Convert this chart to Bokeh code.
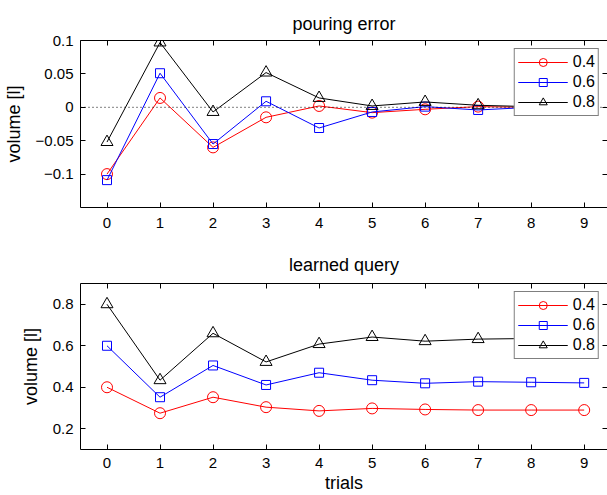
from bokeh.plotting import figure
from bokeh.layouts import column
from bokeh.models import LinearAxis, FixedTicker, Range1d, Legend, LegendItem, Span, CustomJSTickFormatter
from bokeh.embed import file_html
from bokeh.resources import INLINE

# ---- data ----
trials = [0, 1, 2, 3, 4, 5, 6, 7, 8, 9]
x_tick_labels = ["0", "1", "2", "3", "4", "5", "6", "7", "8", "9"]
series_labels = ["0.4", "0.6", "0.8"]

err_04 = [-0.100, 0.014, -0.060, -0.015, 0.002, -0.008, -0.003, 0.001, 0.000, 0.000]
err_06 = [-0.109, 0.051, -0.055, 0.009, -0.031, -0.007, 0.001, -0.004, 0.000, 0.000]
err_08 = [-0.052, 0.097, -0.007, 0.052, 0.014, 0.002, 0.008, 0.003, 0.001, 0.000]

q_04 = [0.400, 0.275, 0.352, 0.304, 0.286, 0.298, 0.293, 0.290, 0.290, 0.290]
q_06 = [0.600, 0.352, 0.505, 0.411, 0.470, 0.434, 0.419, 0.427, 0.424, 0.421]
q_08 = [0.800, 0.434, 0.660, 0.522, 0.608, 0.642, 0.622, 0.632, 0.635, 0.635]

err_yticks = [-0.1, -0.05, 0, 0.05, 0.1]
err_ytick_labels = ["\u22120.1", "\u22120.05", "0", "0.05", "0.1"]
q_yticks = [0.2, 0.4, 0.6, 0.8]
q_ytick_labels = ["0.2", "0.4", "0.6", "0.8"]

colors = ["#ff0000", "#0000ff", "#000000"]
markers = ["circle", "square", "triangle"]
msizes = [11, 9, 12]

FONT = "Liberation Sans"


def style_axis(ax, ticks, labels=None, show_labels=True, line=True):
    ax.ticker = FixedTicker(ticks=ticks)
    ax.minor_tick_line_color = None
    ax.major_tick_in = 5
    ax.major_tick_out = 0
    ax.major_tick_line_color = "black"
    ax.axis_line_color = "black" if line else None
    ax.axis_line_width = 1
    if show_labels:
        if labels is not None:
            ax.major_label_overrides = {t: l for t, l in zip(ticks, labels)}
        ax.major_label_text_font = FONT
        ax.major_label_text_font_size = "15px"
        ax.major_label_text_color = "black"
    else:
        ax.formatter = CustomJSTickFormatter(code="return ''")
        ax.major_label_standoff = 0


def make_panel(title, ys, y_range, yticks, ytick_labels, height, top, bottom,
               title_standoff, tick_standoff, xlabel=None, zero_line=False):
    p = figure(width=607, height=height, x_range=Range1d(-0.5, 9.44), y_range=y_range,
               output_backend="svg", toolbar_location=None,
               min_border_left=80, min_border_right=0, min_border_top=top, min_border_bottom=bottom)
    p.outline_line_color = None
    p.grid.visible = False
    p.background_fill_color = "white"
    p.border_fill_color = "white"

    p.title.text = title
    p.title.align = "center"
    p.title.text_font = FONT
    p.title.text_font_size = "18px"
    p.title.text_font_style = "normal"
    p.title.text_color = "black"
    p.title.standoff = title_standoff

    bx = p.xaxis[0]
    style_axis(bx, trials, x_tick_labels)
    bx.major_label_standoff = tick_standoff
    if xlabel:
        bx.axis_label = xlabel
        bx.axis_label_text_font = FONT
        bx.axis_label_text_font_size = "18px"
        bx.axis_label_text_font_style = "normal"
        bx.axis_label_text_color = "black"
        bx.axis_label_standoff = 2

    ly = p.yaxis[0]
    style_axis(ly, yticks, ytick_labels)
    ly.major_label_standoff = 7
    ly.axis_label = "volume [l]"
    ly.axis_label_text_font = FONT
    ly.axis_label_text_font_size = "18px"
    ly.axis_label_text_font_style = "normal"
    ly.axis_label_text_color = "black"
    ly.axis_label_standoff = 9

    ax_top = LinearAxis()
    style_axis(ax_top, trials, show_labels=False)
    p.add_layout(ax_top, "above")
    ax_right = LinearAxis()
    style_axis(ax_right, yticks, show_labels=False, line=False)
    p.add_layout(ax_right, "right")

    if zero_line:
        p.add_layout(Span(location=0, dimension="width", line_color="black",
                          line_width=1, line_dash="1 3"))

    items = []
    for y, c, m, s, lab in zip(ys, colors, markers, msizes, series_labels):
        r1 = p.line(trials, y, line_color=c, line_width=1)
        r2 = p.scatter(trials, y, marker=m, size=s, line_color=c, fill_color=None, line_width=1)
        items.append(LegendItem(label=lab, renderers=[r1, r2]))
    leg = Legend(items=items, location="top_right")
    leg.margin = 8
    leg.padding = 3
    leg.spacing = 0
    leg.glyph_width = 50
    leg.glyph_height = 20
    leg.label_height = 20
    leg.label_standoff = 5
    leg.label_text_font = FONT
    leg.label_text_font_size = "16px"
    leg.label_text_color = "black"
    leg.border_line_color = "black"
    leg.border_line_width = 1.5
    leg.background_fill_color = "white"
    leg.background_fill_alpha = 1
    p.add_layout(leg)
    return p


p1 = make_panel("pouring error", [err_04, err_06, err_08], Range1d(-0.15, 0.1),
                err_yticks, err_ytick_labels, 240, 40, 33, 14, 10, zero_line=True)
p2 = make_panel("learned query", [q_04, q_06, q_08], Range1d(0.1, 0.9),
                q_yticks, q_ytick_labels, 255, 43, 46, 18, 8, xlabel="trials")

layout = column(p1, p2, spacing=0)
open("out.html", "w").write(file_html(layout, INLINE))
